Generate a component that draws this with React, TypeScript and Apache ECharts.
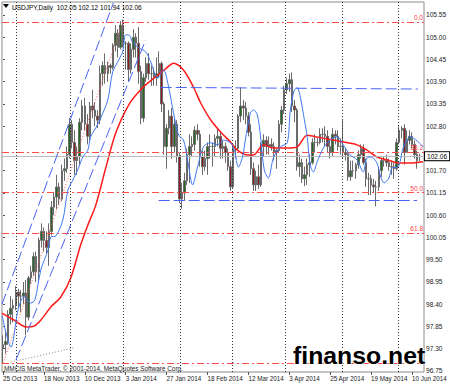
import React, { useEffect, useRef } from "react";
import * as echarts from "echarts";

const FONT = '"Liberation Sans", Arial, sans-serif';

// x positions are bar numbers (weekdays from 25 Oct 2013, 25 Dec and 1 Jan absent)
const tickIndex = [0, 16, 32, 48, 64, 80, 96, 112, 128, 144, 160];
const tickLabels = ["25 Oct 2013", "18 Nov 2013", "10 Dec 2013", "3 Jan 2014", "27 Jan 2014", "18 Feb 2014", "12 Mar 2014", "3 Apr 2014", "25 Apr 2014", "19 May 2014", "10 Jun 2014"];
const priceTicks = [96.75, 97.3, 97.85, 98.4, 98.95, 99.5, 100.05, 100.6, 101.15, 101.7, 102.8, 103.35, 103.9, 104.45, 105.0, 105.55];

const opens = [97.32, 97.40, 97.48, 98.15, 98.30, 98.37, 98.70, 98.60, 98.60, 98.68, 98.08,
  99.05, 99.20, 99.58, 99.20, 99.98, 100.20, 99.98, 99.80, 100.20, 100.80,
  101.05, 101.30, 101.00, 101.70, 101.75, 102.10, 102.85, 102.40, 101.95, 102.05,
  102.90, 103.30, 102.85, 102.55, 103.30, 103.20, 103.05, 102.95, 104.10, 104.30,
  104.10, 104.30, 104.25, 104.80, 105.10, 104.75, 105.30, 104.85, 104.85, 104.20,
  104.70, 105.00, 104.85, 104.15, 103.00, 104.00, 104.35, 104.10, 104.10, 104.00,
  104.10, 104.35, 103.35, 102.30, 102.75, 103.05, 102.30, 102.85, 102.05, 101.00,
  101.15, 101.45, 102.10, 102.30, 102.35, 102.70, 102.60, 102.05, 101.80, 102.00,
  102.30, 102.30, 102.30, 102.50, 102.55, 102.25, 102.30, 102.15, 101.80, 101.30,
  102.25, 102.25, 103.05, 103.30, 103.25, 103.05, 102.65, 101.75, 101.35, 101.55,
  101.35, 102.30, 102.45, 102.30, 102.35, 102.30, 102.15, 102.20, 102.85, 103.20,
  103.70, 103.85, 103.95, 103.30, 103.20, 101.80, 101.90, 101.50, 101.60, 101.85,
  101.90, 102.40, 102.40, 102.40, 102.60, 102.60, 102.55, 102.30, 102.15, 102.60,
  102.55, 102.30, 102.30, 102.15, 102.10, 101.55, 101.70, 101.70, 101.85, 102.10,
  102.25, 101.90, 101.50, 101.50, 101.35, 101.30, 101.30, 101.70, 101.95, 101.95,
  101.90, 101.80, 101.80, 101.75, 102.40, 102.70, 102.75, 102.15, 102.45, 102.55,
  102.35, 102.10, 102.05];
const closes = [97.40, 97.48, 98.15, 98.30, 98.37, 98.70, 98.60, 98.60, 98.68, 98.08, 99.05,
  99.20, 99.58, 99.20, 99.98, 100.20, 99.98, 99.80, 100.20, 100.80, 101.05,
  101.30, 101.00, 101.70, 101.75, 102.10, 102.85, 102.40, 101.95, 102.05, 102.90,
  103.30, 102.85, 102.55, 103.30, 103.20, 103.05, 102.95, 104.10, 104.30, 104.10,
  104.30, 104.25, 104.80, 105.10, 104.75, 105.30, 104.85, 104.85, 104.20, 104.70,
  105.00, 104.85, 104.15, 103.00, 104.00, 104.35, 104.10, 104.10, 104.00, 104.10,
  104.35, 103.35, 102.30, 102.75, 103.05, 102.30, 102.85, 102.05, 101.00, 101.15,
  101.45, 102.10, 102.30, 102.35, 102.70, 102.60, 102.05, 101.80, 102.00, 102.30,
  102.30, 102.30, 102.50, 102.55, 102.25, 102.30, 102.15, 101.80, 101.30, 102.25,
  102.25, 103.05, 103.30, 103.25, 103.05, 102.65, 101.75, 101.35, 101.55, 101.35,
  102.30, 102.45, 102.30, 102.35, 102.30, 102.15, 102.20, 102.85, 103.20, 103.70,
  103.85, 103.95, 103.30, 103.20, 101.80, 101.90, 101.50, 101.60, 101.85, 101.90,
  102.40, 102.40, 102.40, 102.60, 102.60, 102.55, 102.30, 102.15, 102.60, 102.55,
  102.30, 102.30, 102.15, 102.10, 101.55, 101.70, 101.70, 101.85, 102.10, 102.25,
  101.90, 101.50, 101.50, 101.35, 101.30, 101.30, 101.70, 101.95, 101.95, 101.90,
  101.80, 101.80, 101.75, 102.40, 102.70, 102.75, 102.15, 102.45, 102.55, 102.35,
  102.10, 101.95, 102.06];
const lows = [96.94, 97.18, 97.40, 97.90, 97.95, 98.25, 98.30, 98.20, 98.40, 97.63, 98.00,
  98.90, 99.10, 98.95, 99.00, 99.80, 99.70, 99.65, 99.35, 100.10, 100.60,
  100.75, 100.85, 100.95, 101.45, 101.65, 102.00, 102.25, 101.60, 101.60, 101.85,
  102.70, 102.70, 102.35, 102.45, 103.00, 102.80, 102.75, 102.85, 103.80, 103.85,
  103.90, 104.10, 104.20, 104.65, 104.50, 104.70, 104.75, 104.20, 103.90, 104.10,
  104.50, 104.50, 103.85, 102.85, 102.90, 103.90, 103.95, 103.80, 103.80, 103.80,
  104.00, 103.15, 102.10, 101.75, 102.60, 102.00, 102.15, 101.90, 100.90, 100.76,
  100.95, 101.35, 101.40, 102.05, 102.20, 102.45, 101.80, 101.60, 101.70, 101.60,
  102.00, 101.80, 102.05, 102.30, 102.00, 102.00, 101.90, 101.70, 101.20, 101.25,
  102.00, 102.20, 102.90, 102.95, 102.85, 102.55, 101.60, 101.20, 101.20, 101.25,
  101.30, 102.05, 102.10, 102.10, 102.20, 101.95, 101.75, 102.15, 102.65, 103.10,
  103.60, 103.65, 103.15, 102.90, 101.70, 101.55, 101.40, 101.32, 101.35, 101.55,
  101.85, 102.15, 102.30, 102.35, 102.40, 102.30, 102.15, 102.00, 102.05, 102.35,
  102.20, 102.10, 102.00, 101.95, 101.45, 101.45, 101.55, 101.50, 101.75, 102.00,
  101.85, 101.30, 101.10, 101.10, 101.15, 100.82, 101.20, 101.55, 101.80, 101.80,
  101.70, 101.60, 101.50, 101.70, 102.35, 102.50, 101.85, 102.15, 102.35, 102.25,
  102.00, 101.75, 101.94];
const highs = [97.63, 97.75, 98.25, 98.60, 98.52, 98.85, 98.78, 98.75, 98.95, 99.00, 99.10,
  99.35, 99.68, 99.70, 100.05, 100.40, 100.30, 100.20, 100.40, 100.95, 101.15,
  101.60, 101.40, 101.85, 102.00, 102.30, 103.00, 102.95, 102.70, 102.30, 103.00,
  103.45, 103.50, 103.10, 103.40, 103.70, 103.40, 103.20, 104.30, 104.40, 104.60,
  104.40, 104.35, 104.85, 105.30, 105.20, 105.40, 105.44, 104.90, 104.90, 104.85,
  105.20, 105.10, 105.25, 104.30, 104.10, 104.50, 104.60, 104.30, 104.25, 104.50,
  104.65, 104.40, 103.40, 102.85, 103.20, 103.25, 103.00, 102.95, 102.15, 101.40,
  101.65, 102.25, 102.60, 102.55, 102.80, 102.85, 102.70, 102.20, 102.20, 102.40,
  102.60, 102.40, 102.60, 102.75, 102.65, 102.45, 102.40, 102.25, 101.95, 102.35,
  102.45, 103.10, 103.76, 103.45, 103.40, 103.15, 102.85, 101.90, 101.70, 101.85,
  102.40, 102.60, 102.55, 102.55, 102.50, 102.40, 102.25, 102.95, 103.30, 103.80,
  104.00, 104.10, 104.13, 103.45, 103.25, 102.10, 102.00, 101.80, 102.00, 102.10,
  102.50, 102.60, 102.50, 102.75, 102.75, 102.80, 102.70, 102.45, 102.75, 102.70,
  102.70, 102.50, 102.95, 102.25, 102.15, 101.95, 101.95, 101.90, 102.20, 102.35,
  102.35, 102.00, 101.65, 101.60, 101.50, 101.45, 101.80, 102.00, 102.05, 102.10,
  102.00, 101.95, 101.90, 102.50, 102.80, 102.80, 102.85, 102.70, 102.70, 102.65,
  102.45, 102.20, 102.12];

// slow moving average (red)
const redIdx = [-0.4, 4.3, 9.0, 12.1, 14.8, 18.7, 22.6, 26.5, 30.4, 33.2, 36.3, 40.2, 44.1, 49.2, 54.6, 59.7, 63.6, 66.7, 70.6, 74.5, 77.3, 81.2, 85.1, 89.0, 91.7, 95.6, 98.0, 101.9, 105.8, 111.2, 115.1, 119.0, 122.2, 129.2, 133.1, 138.5, 142.4, 146.3, 150.2, 155.3, 159.2, 164.3];
const redVal = [98.18, 98.01, 97.84, 97.86, 98.01, 98.33, 98.58, 99.05, 99.87, 100.36, 100.85, 101.77, 102.63, 103.33, 103.75, 104.02, 104.22, 104.36, 104.19, 103.77, 103.38, 102.96, 102.66, 102.41, 102.21, 102.09, 102.09, 102.34, 102.26, 102.26, 102.29, 102.58, 102.54, 102.46, 102.41, 102.34, 102.21, 102.04, 101.97, 101.89, 101.89, 101.92];

// fast moving average (blue)
const blueIdx = [-0.4, 3.1, 5.9, 8.2, 10.9, 12.5, 14.8, 17.6, 18.7, 20.7, 23.4, 25.4, 27.3, 29.7, 31.2, 33.2, 34.3, 36.3, 38.2, 41.0, 42.9, 45.3, 46.8, 48.0, 49.2, 50.7, 53.1, 55.8, 57.8, 60.5, 62.8, 64.8, 66.7, 68.7, 70.6, 72.2, 74.2, 76.1, 78.4, 81.2, 83.9, 86.2, 89.0, 90.5, 92.1, 93.7, 94.8, 96.8, 98.0, 99.5, 100.7, 102.2, 103.8, 105.8, 108.5, 111.2, 112.4, 114.0, 115.1, 116.3, 117.9, 119.0, 120.2, 121.4, 122.9, 125.3, 128.0, 130.7, 133.1, 135.8, 138.5, 140.9, 142.4, 144.0, 146.3, 147.9, 149.1, 151.0, 152.2, 154.5, 156.5, 158.1, 159.2, 162.0, 164.3];
const blueVal = [98.13, 97.34, 98.26, 98.58, 98.43, 98.51, 99.25, 99.74, 100.06, 100.09, 100.48, 101.22, 101.47, 101.79, 102.04, 102.21, 102.54, 102.76, 103.00, 103.45, 104.14, 104.44, 104.64, 105.06, 105.06, 104.88, 104.74, 104.64, 104.39, 103.99, 104.19, 103.77, 103.13, 102.58, 102.46, 101.97, 101.35, 101.79, 102.29, 102.39, 102.34, 102.46, 102.39, 102.21, 101.79, 102.04, 102.46, 103.13, 103.20, 103.08, 102.58, 101.72, 101.52, 102.02, 102.29, 102.39, 103.20, 103.70, 103.75, 103.52, 102.96, 102.54, 101.84, 101.67, 101.92, 102.26, 102.46, 102.54, 102.34, 102.09, 101.97, 101.67, 102.02, 102.04, 101.89, 101.52, 101.40, 101.52, 101.77, 101.79, 102.26, 102.46, 102.54, 102.44, 102.29];

const gridIdx = [5.1, 26.5, 47.2, 69.5, 89.8, 110.4, 132.7, 154.5];
const fibLevels = [105.38, 102.156, 101.16, 100.164, 96.94];
const fibLabels = ["0.0", "38.2", "50.0", "61.8", "100.0"];
const lastPrice = 102.06;
const titleText = "USDJPY,Daily  102.05 102.12 101.94 102.06";

export default function App() {
  const ref = useRef<HTMLDivElement>(null);
  useEffect(() => {
    const chart = echarts.init(ref.current!, null, { renderer: "svg" });
    const candles = opens.map((o, i) => [i, o, closes[i], lows[i], highs[i]]);
    const red = redIdx.map((x, i) => [x, redVal[i]]);
    const blue = blueIdx.map((x, i) => [x, blueVal[i]]);
    const blueDash = { color: "#4a62f5", type: [11, 4] as any, width: 1 };
    const redDashDot = { color: "#ff4a4a", type: [7, 3, 2, 3] as any, width: 1 };

    const markData: any[] = [];
    gridIdx.forEach((g) => markData.push({ xAxis: g, lineStyle: { color: "#333", type: [1, 2], width: 1 } }));
    fibLevels.forEach((lv, k) =>
      markData.push({
        yAxis: lv,
        lineStyle: redDashDot,
        label: k < 4 ? { show: true, position: "insideEndTop", formatter: fibLabels[k], color: "#ff4040", fontSize: 6.5, fontFamily: FONT, distance: 1 } : { show: false },
      })
    );
    markData.push({
      yAxis: lastPrice,
      lineStyle: { color: "#bdbdbd", type: "solid", width: 1 },
      label: { show: true, position: "end", formatter: lastPrice.toFixed(2), color: "#000", fontSize: 6.6, fontFamily: FONT, backgroundColor: "#fff", borderColor: "#000", borderWidth: 1, padding: [1, 2, 0, 2], distance: 1 },
    });
    const seg = (a: number[], b: number[], style: any) => [{ coord: a, lineStyle: style }, { coord: b }];
    markData.push(seg([-0.4, 98.4], [43.2, 105.85], blueDash));
    markData.push(seg([5.07, 97.02], [55.8, 104.93], blueDash));
    markData.push(seg([0, 96.94], [47, 105.38], { color: "#ff5a5a", type: [1, 2], width: 1 }));
    markData.push(seg([3.1, 96.97], [27.7, 97.32], { color: "#888", type: [1, 2], width: 1 }));
    markData.push(seg([61.7, 103.76], [162.3, 103.72], blueDash));
    markData.push(seg([60.9, 100.97], [162.0, 100.96], blueDash));

    const option: any = {
      animation: false,
      backgroundColor: "#fff",
      textStyle: { fontFamily: FONT },
      grid: { left: 1, right: 26, top: 2, bottom: 13, show: true, borderColor: "#8c8c8c", borderWidth: 1, backgroundColor: "#fff" },
      xAxis: {
        type: "value",
        min: -0.4,
        max: 164.7,
        axisLine: { show: false },
        splitLine: { show: false },
        axisTick: { show: true, customValues: tickIndex, length: 3, lineStyle: { color: "#555" } },
        axisLabel: {
          customValues: tickIndex,
          formatter: (v: number) => tickLabels[tickIndex.indexOf(Math.round(v))] ?? "",
          align: "left",
          fontSize: 6.3,
          color: "#222",
          margin: 3,
          fontFamily: FONT,
        },
      },
      yAxis: {
        type: "value",
        position: "right",
        min: 96.725,
        max: 105.871,
        scale: true,
        axisLine: { show: false },
        splitLine: { show: false },
        axisTick: { show: true, customValues: priceTicks, length: 2, lineStyle: { color: "#555" } },
        axisLabel: { customValues: priceTicks, formatter: (v: number) => v.toFixed(2), fontSize: 6.6, color: "#222", margin: 2, fontFamily: FONT },
      },
      series: [
        {
          type: "candlestick",
          data: candles,
          barWidth: 2,
          silent: true,
          itemStyle: { color: "#1c6a1c", color0: "#8a1c1c", borderColor: "#6a6a6a", borderColor0: "#6a6a6a", borderColorDoji: "#6a6a6a", borderWidth: 1 },
          markLine: { silent: true, symbol: ["none", "none"], label: { show: false }, data: markData },
          z: 2,
        },
        { type: "line", data: red, showSymbol: false, smooth: 0.3, silent: true, lineStyle: { color: "#ff1a1a", width: 1.5 }, z: 4 },
        { type: "line", data: blue, showSymbol: false, smooth: 0.3, silent: true, lineStyle: { color: "#3f78f0", width: 1 }, z: 5 },
      ],
      graphic: [
        { type: "polygon", shape: { points: [[3, 4], [9, 4], [6, 8]] }, style: { fill: "#000" }, z: 10 },
        { type: "text", x: 12, y: 7, style: { text: titleText, fill: "#000", font: "6.5px " + FONT, textVerticalAlign: "middle", verticalAlign: "middle" }, z: 10 },
        { type: "text", x: 4, y: 368, style: { text: "MMCIS MetaTrader, © 2001-2014, MetaQuotes Software Corp.", fill: "#222", font: "6.4px " + FONT, textVerticalAlign: "middle", verticalAlign: "middle" }, z: 10 },
        { type: "text", x: 293, y: 355, style: { text: "finanso.net", fill: "#000", stroke: "#fff", lineWidth: 1.5, font: "bold 24.8px " + FONT, textVerticalAlign: "middle", verticalAlign: "middle" }, z: 20 },
      ],
    };
    chart.setOption(option);
    return () => chart.dispose();
  }, []);
  return <div ref={ref} style={{ position: "fixed", left: 0, top: 0, width: 450, height: 385, background: "#fff" }} />;
}
